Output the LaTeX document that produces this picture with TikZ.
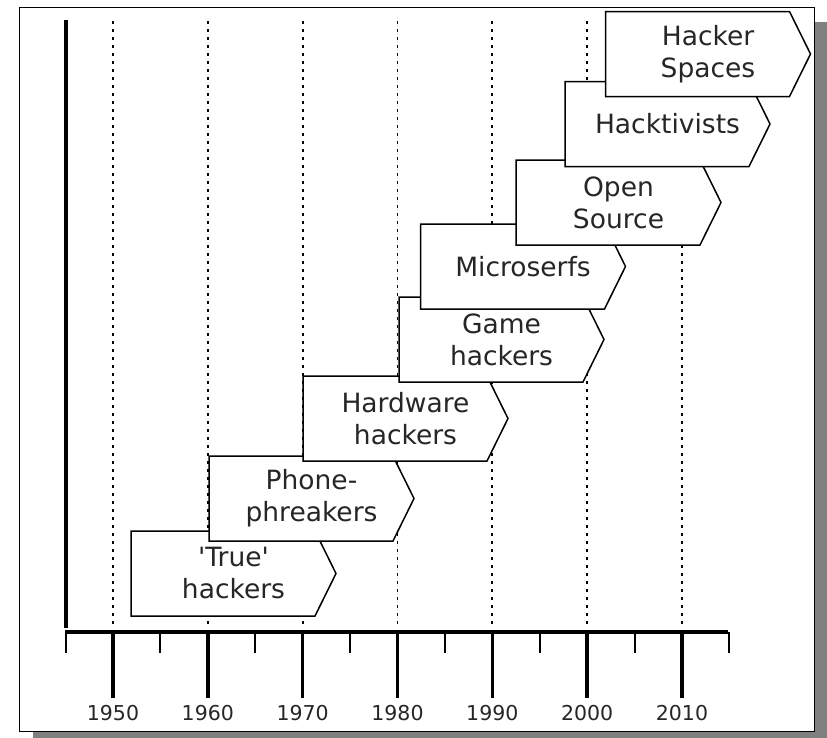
\documentclass[tikz,border=0pt]{standalone}
\usepackage{fontspec}
\setmainfont{DejaVu Sans}
\begin{document}
\begin{tikzpicture}[x=1pt,y=-1pt,
  box/.style={draw=black, fill=white, line width=1.5pt, line join=miter},
  lbl/.style={font=\fontsize{26.5}{32}\selectfont, text=black!85, align=center, inner sep=0pt},
  yr/.style={font=\fontsize{20.5}{24}\selectfont, text=black!85, inner sep=0pt},
  gridline/.style={line width=1.8pt, dash pattern=on 3pt off 5pt},
  axis/.style={line width=3.8pt},
  majortick/.style={line width=3.5pt},
  minortick/.style={line width=2pt},
]
\useasboundingbox (0,0) rectangle (827,737);
% frame with shadow
\fill[gray] (33,22) rectangle (840,750);
\draw[fill=white, line width=1pt] (19,7) rectangle (814.5,731.5);
% dotted decade lines
\foreach \i in {0,...,6} \draw[gridline] ({113+94.83*\i},21) -- ({113+94.83*\i},628);
% axes
\draw[axis] (66,20) -- (66,628);
\draw[axis] (65,632) -- (728,632);
% ticks and labels
\foreach \i/\yy in {0/1950,1/1960,2/1970,3/1980,4/1990,5/2000,6/2010} {
  \draw[majortick] ({113+94.83*\i},632) -- ({113+94.83*\i},698);
  \node[yr] (yr\yy) at ({113+94.83*\i},713) {\yy};
}
\foreach \i in {0,...,7} \draw[minortick] ({65.6+94.83*\i},632) -- ({65.6+94.83*\i},653);
% boxes
\newcommand\tlbox[4]{%
  \draw[box] (#2,#3) -- ++(184,0) -- ++(21,42.5) -- ++(-21,42.5) -- ++(-184,0) -- cycle;
  \node[lbl] (#1) at ({#2+102.5},{#3+42.5}) {#4};}
\tlbox{truehackers}{131}{531}{\textquotesingle True\textquotesingle\\hackers}
\tlbox{phone}{209}{456}{Phone-\\phreakers}
\tlbox{hardware}{303}{376}{Hardware\\hackers}
\tlbox{game}{399}{297}{Game\\hackers}
\tlbox{micro}{420.5}{224}{Microserfs}
\tlbox{open}{516}{160}{Open\\Source}
\tlbox{hacktivists}{565}{81.5}{Hacktivists}
\tlbox{spaces}{605.5}{11.5}{Hacker\\Spaces}
\end{tikzpicture}
\end{document}
